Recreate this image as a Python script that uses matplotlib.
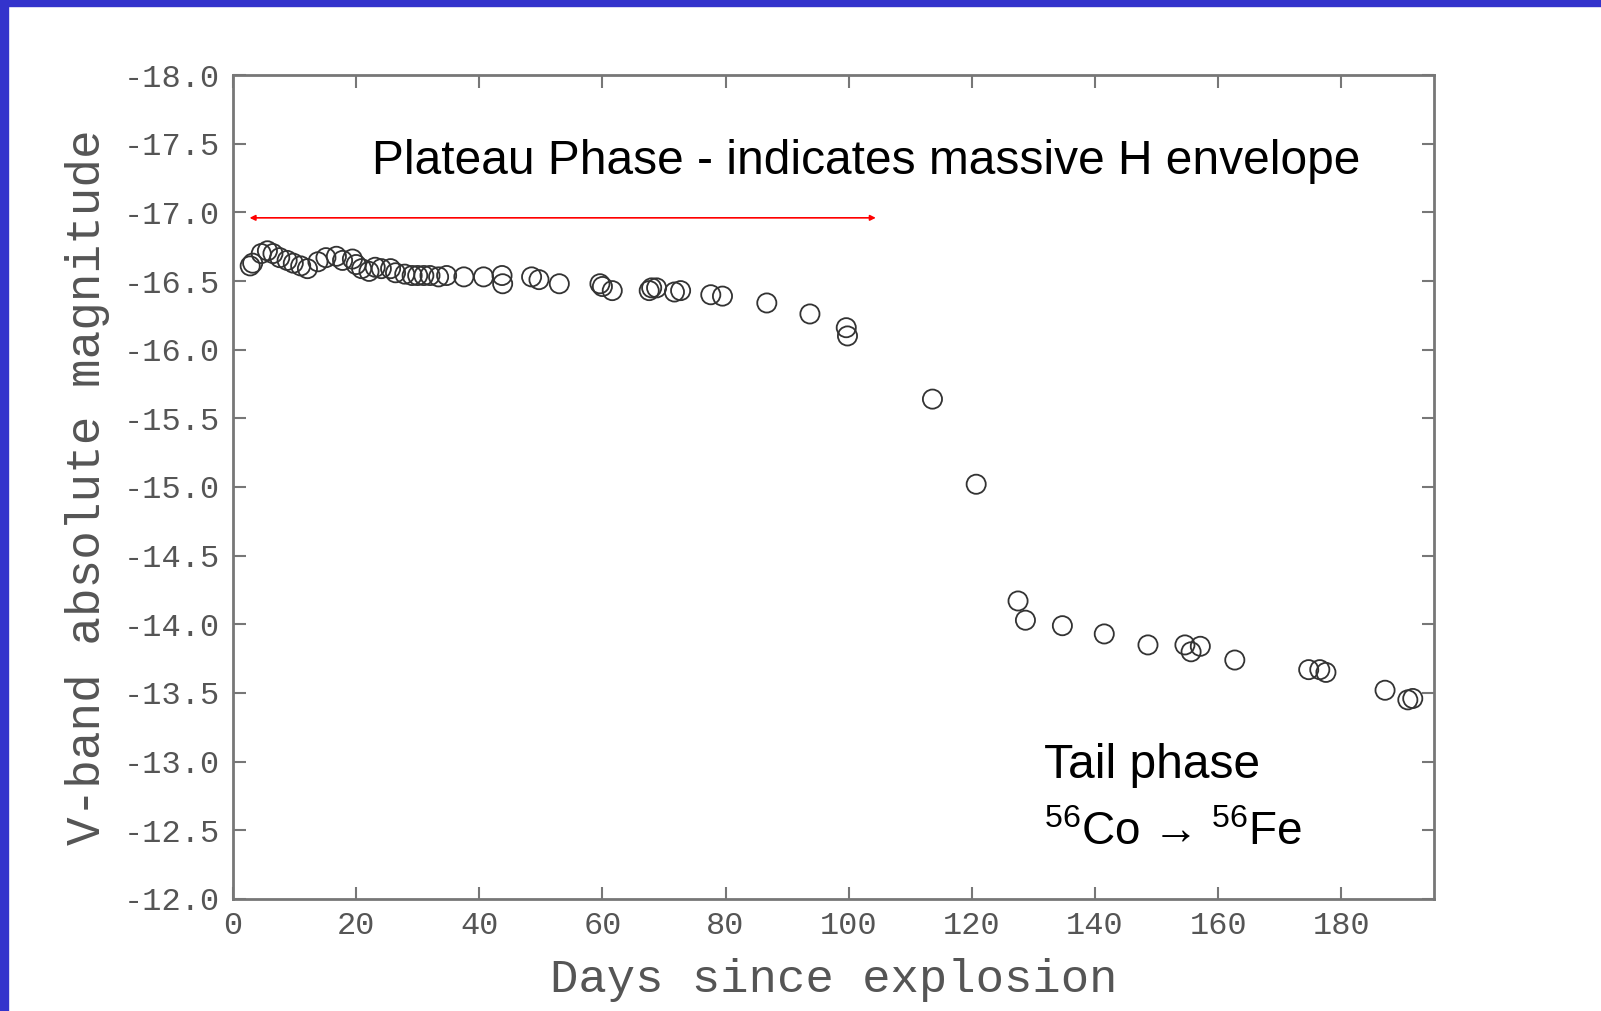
import matplotlib
matplotlib.use("Agg")
import matplotlib.pyplot as plt
from matplotlib.patches import Rectangle

# light curve
days = [2.8, 3.2, 4.6, 5.6, 6.5, 7.6, 8.8, 9.8, 11.0, 12.1, 13.8, 15.1, 16.8, 17.8,
        19.4, 20.0, 20.9, 22.1, 23.1, 24.1, 25.6, 26.4, 27.9, 29.1, 30.0, 31.0,
        32.0, 33.4, 34.7, 37.5, 40.7, 43.7, 43.8, 48.5, 49.7, 53.0, 59.6, 60.0,
        61.6, 67.6, 68.0, 68.8, 71.7, 72.7, 77.6, 79.5, 86.7, 93.7, 99.6, 99.8,
        113.6, 120.7, 127.5, 128.7, 134.7, 141.5, 148.6, 154.6, 155.6, 157.1,
        162.7, 174.7, 176.5, 177.5, 187.1, 190.8, 191.6]
mags = [-16.61, -16.63, -16.70, -16.72, -16.70, -16.67, -16.65, -16.63, -16.61, -16.59,
        -16.64, -16.67, -16.68, -16.65, -16.66, -16.62, -16.59, -16.57, -16.60, -16.59,
        -16.59, -16.56, -16.55, -16.54, -16.54, -16.54, -16.54, -16.53, -16.54, -16.53,
        -16.53, -16.54, -16.48, -16.53, -16.51, -16.48, -16.48, -16.46, -16.43, -16.43,
        -16.45, -16.45, -16.42, -16.43, -16.40, -16.39, -16.34, -16.26, -16.16, -16.10,
        -15.64, -15.02, -14.17, -14.03, -13.99, -13.93, -13.85, -13.85, -13.80, -13.84,
        -13.74, -13.67, -13.67, -13.65, -13.52, -13.45, -13.46]

xticks = list(range(0, 181, 20))
yticks = [-18.0, -17.5, -17.0, -16.5, -16.0, -15.5, -15.0, -14.5, -14.0, -13.5, -13.0, -12.5, -12.0]

plt.rcParams['axes.unicode_minus'] = False
plt.rcParams['mathtext.fontset'] = 'custom'
plt.rcParams['mathtext.rm'] = 'Liberation Sans'
plt.rcParams['mathtext.it'] = 'Liberation Sans:italic'

fig = plt.figure(figsize=(16.01, 10.11), dpi=100)
fig.patches.append(Rectangle((0, 1 - 6 / 1011), 1, 6 / 1011, transform=fig.transFigure,
                             color="#3333cc", zorder=10))
fig.patches.append(Rectangle((0, 0), 8 / 1601, 1, transform=fig.transFigure,
                             color="#3333cc", zorder=10))

ax = fig.add_axes([0.1455, 0.1108, 0.750, 0.815])

ax.scatter(days, mags, s=190, facecolors="none", edgecolors="#333333", linewidths=1.3)

ax.set_xlim(0, 195)
ax.set_ylim(-12, -18)
ax.set_xticks(xticks)
ax.set_yticks(yticks)
ax.set_yticklabels(["%.1f" % v for v in yticks])

for sp in ax.spines.values():
    sp.set_color("#777777")
    sp.set_linewidth(2)
ax.tick_params(direction="in", top=True, right=True, length=9, width=1.5, color="#777777",
               labelsize=23, labelcolor="#555555", pad=9)
for lab in ax.get_xticklabels() + ax.get_yticklabels():
    lab.set_family("Liberation Mono")

ax.set_xlabel("Days since explosion", family="Liberation Mono", fontsize=34, color="#555555",
              labelpad=12)
ax.set_ylabel("V-band absolute magnitude", family="Liberation Mono", fontsize=34.3,
              color="#555555", labelpad=10)

ax.annotate("", xy=(104.4, -16.96), xytext=(2.7, -16.96),
            arrowprops=dict(arrowstyle="<|-|>", color="red", lw=1.2, mutation_scale=8,
                            shrinkA=0, shrinkB=0))

ax.text(22.6, -17.37, "Plateau Phase - indicates massive H envelope", ha="left", va="center",
        fontsize=34.5, family=["Liberation Sans", "DejaVu Sans"])
ax.text(131.7, -12.97, "Tail phase", ha="left", va="center", fontsize=34.5,
        family=["Liberation Sans", "DejaVu Sans"])
ax.text(131.7, -12.48, "$^{56}$Co → $^{56}$Fe", ha="left", va="center", fontsize=33,
        family=["Liberation Sans", "DejaVu Sans"])

fig.savefig("out.png", dpi=100)
